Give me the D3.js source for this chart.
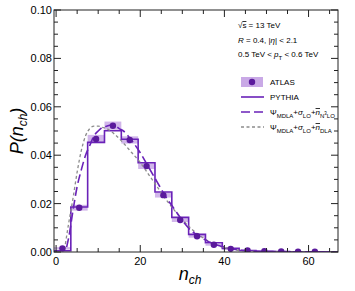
<!DOCTYPE html>
<html>
<head>
<meta charset="utf-8">
<script src="https://cdn.jsdelivr.net/npm/d3@7"></script>
<style>
  body { margin: 0; background: #fff; }
  svg { display: block; font-family: "Liberation Sans", Arial, sans-serif; }
</style>
</head>
<body>
<div id="chart"></div>
<script>
// bins of width 4 starting at -0.5
var binEdges = d3.range(-0.5, 68, 4);
var pythia = [0.0005, 0.0186, 0.0453, 0.0501, 0.0466, 0.0369, 0.0248, 0.0143, 0.0073,
              0.0038, 0.0015, 0.0006, 0.0003, 0.0002, 0.0001, 0.0001, 0.0001];
var atlasN = [1.5, 5.5, 9.5, 13.5, 17.5, 21.5, 25.5, 29.5, 33.5, 37.5, 41.5, 45.5, 49.5, 53.5, 57.5, 61.5];
var atlas = [0.0015, 0.0183, 0.0467, 0.0522, 0.0463, 0.0355, 0.0235, 0.0132, 0.0065,
             0.0030, 0.0013, 0.0006, 0.0003, 0.0002, 0.0001, 0.0001];
var atlasErr = [0.0005, 0.0012, 0.0017, 0.0017, 0.0015, 0.0012, 0.0010, 0.0008, 0.0006,
                0.0004, 0.0003, 0.0002, 0.0001, 0.0001, 0.0001, 0.0001];
var n3loN = [2.5, 3, 4, 5, 6, 7, 8, 9, 10, 11, 12, 13, 14, 15, 16, 18, 20, 22, 24, 26, 28, 30,
             32, 34, 36, 38, 40, 44, 50, 58, 67];
var n3lo = [0.002, 0.006, 0.017, 0.027, 0.034, 0.040, 0.044, 0.048, 0.050, 0.0515, 0.052, 0.0525,
            0.0522, 0.051, 0.050, 0.046, 0.041, 0.035, 0.029, 0.023, 0.018, 0.013,
            0.009, 0.0065, 0.0045, 0.003, 0.002, 0.0007, 0.0002, 0.0001, 0.0];
var dlaN = [2, 3, 4, 5, 6, 7, 8, 9, 10, 11, 12, 14, 16, 18, 20, 22, 24, 26, 28, 30,
            32, 34, 36, 38, 40, 44, 50, 58, 67];
var dla = [0.001, 0.012, 0.022, 0.033, 0.042, 0.048, 0.051, 0.052, 0.052, 0.0515, 0.051, 0.0485,
           0.045, 0.041, 0.037, 0.032, 0.027, 0.022, 0.0175, 0.0135,
           0.0098, 0.007, 0.0047, 0.003, 0.0018, 0.0006, 0.0001, 0.0, 0.0];
var xMajor = [0, 20, 40, 60];
var yMajor = [0, 0.02, 0.04, 0.06, 0.08, 0.10];

var width = 355, height = 291,
    margin = {top: 10, right: 17, bottom: 39, left: 54};
var purple = '#6a22b8', dotCol = '#5a1a9c', band = '#c9a9e6', grey = '#8c8c8c';

var x = d3.scaleLinear().domain([-0.5, 67]).range([margin.left, width - margin.right]);
var y = d3.scaleLinear().domain([0, 0.1]).range([height - margin.bottom, margin.top]);

var svg = d3.select('#chart').append('svg')
    .attr('width', width)
    .attr('height', height);

svg.append('clipPath').attr('id', 'clip')
  .append('rect')
    .attr('x', margin.left).attr('y', margin.top)
    .attr('width', width - margin.left - margin.right)
    .attr('height', height - margin.top - margin.bottom);

var plot = svg.append('g').attr('clip-path', 'url(#clip)');

// ATLAS uncertainty bands
plot.selectAll('.band')
    .data(atlas)
  .enter().append('rect')
    .attr('class', 'band')
    .attr('x', function(d, i) { return x(atlasN[i] - 2); })
    .attr('width', function(d, i) { return x(atlasN[i] + 2) - x(atlasN[i] - 2); })
    .attr('y', function(d, i) { return y(d + atlasErr[i]); })
    .attr('height', function(d, i) { return y(d - atlasErr[i]) - y(d + atlasErr[i]); })
    .style('fill', band)
    .style('opacity', 0.85);

// PYTHIA histogram as step line
var steps = [];
pythia.forEach(function(v, i) {
  steps.push([binEdges[i], v]);
  steps.push([binEdges[i + 1], v]);
});
steps.unshift([binEdges[0], 0]);
var lineXY = d3.line()
    .x(function(d) { return x(d[0]); })
    .y(function(d) { return y(d[1]); });
plot.append('path')
    .attr('d', lineXY(steps))
    .style('fill', 'none')
    .style('stroke', purple)
    .style('stroke-width', 1.6);

var smooth = d3.line()
    .curve(d3.curveMonotoneX)
    .x(function(d) { return x(d[0]); })
    .y(function(d) { return y(d[1]); });

plot.append('path')
    .attr('d', smooth(dlaN.map(function(n, i) { return [n, dla[i]]; })))
    .style('fill', 'none')
    .style('stroke', grey)
    .style('stroke-width', 1.3)
    .style('stroke-dasharray', '3,2.5');

plot.append('path')
    .attr('d', smooth(n3loN.map(function(n, i) { return [n, n3lo[i]]; })))
    .style('fill', 'none')
    .style('stroke', purple)
    .style('stroke-width', 1.6)
    .style('stroke-dasharray', '9,4');

plot.selectAll('.pt')
    .data(atlas)
  .enter().append('circle')
    .attr('class', 'pt')
    .attr('cx', function(d, i) { return x(atlasN[i]); })
    .attr('cy', function(d) { return y(d); })
    .attr('r', 3.2)
    .style('fill', dotCol);

// frame and ticks (inward, all four sides)
var x0 = margin.left, x1 = width - margin.right, y0 = height - margin.bottom, y1 = margin.top;
var axes = svg.append('g').style('stroke', '#222').style('stroke-width', 1);
axes.append('rect')
    .attr('x', x0).attr('y', y1)
    .attr('width', x1 - x0).attr('height', y0 - y1)
    .style('fill', 'none');

var xMinor = d3.range(0, 67, 5);
xMinor.forEach(function(v) {
  var len = xMajor.indexOf(v) >= 0 ? 7 : 4;
  axes.append('line').attr('x1', x(v)).attr('x2', x(v)).attr('y1', y0).attr('y2', y0 - len);
  axes.append('line').attr('x1', x(v)).attr('x2', x(v)).attr('y1', y1).attr('y2', y1 + len);
});
var yMinor = d3.range(0, 0.1001, 0.005);
yMinor.forEach(function(v, i) {
  var len = i % 4 === 0 ? 7 : 4;
  axes.append('line').attr('y1', y(v)).attr('y2', y(v)).attr('x1', x0).attr('x2', x0 + len);
  axes.append('line').attr('y1', y(v)).attr('y2', y(v)).attr('x1', x1).attr('x2', x1 - len);
});

svg.selectAll('.xlab')
    .data(xMajor)
  .enter().append('text')
    .attr('x', function(d) { return x(d); })
    .attr('y', y0 + 13)
    .attr('text-anchor', 'middle')
    .style('font-size', '11px')
    .text(function(d) { return d; });

svg.selectAll('.ylab')
    .data(yMajor)
  .enter().append('text')
    .attr('x', x0 - 2)
    .attr('y', function(d) { return y(d) + 4; })
    .attr('text-anchor', 'end')
    .style('font-size', '11px')
    .text(function(d) { return d3.format('.2f')(d); });

// axis titles
var xt = svg.append('text')
    .attr('x', 190).attr('y', 280)
    .attr('text-anchor', 'middle')
    .style('font-size', '18px').style('font-style', 'italic');
xt.append('tspan').text('n');
xt.append('tspan').attr('dy', 4).style('font-size', '12px').text('ch');

var yt = svg.append('text')
    .attr('transform', 'translate(23,131) rotate(-90)')
    .attr('text-anchor', 'middle')
    .style('font-size', '18px').style('font-style', 'italic');
yt.append('tspan').text('P(n');
yt.append('tspan').attr('dy', 4).style('font-size', '12px').text('ch');
yt.append('tspan').attr('dy', -4).text(')');

// annotations
var ann = svg.append('g').style('font-size', '8px');
var a1 = ann.append('text').attr('x', 238).attr('y', 28);
a1.append('tspan').text('√');
a1.append('tspan').style('text-decoration', 'overline').text('s');
a1.append('tspan').text(' = 13 TeV');
var a2 = ann.append('text').attr('x', 238).attr('y', 43);
a2.append('tspan').style('font-style', 'italic').text('R');
a2.append('tspan').text(' = 0.4, |');
a2.append('tspan').style('font-style', 'italic').text('η');
a2.append('tspan').text('| < 2.1');
var a3 = ann.append('text').attr('x', 238).attr('y', 57);
a3.append('tspan').text('0.5 TeV <  ');
a3.append('tspan').style('font-style', 'italic').text('p');
a3.append('tspan').attr('dy', 2.5).style('font-size', '6px').text('T');
a3.append('tspan').attr('dy', -2.5).text(' < 0.6 TeV');

// legend
var lg = svg.append('g').style('font-size', '8px');
lg.append('rect').attr('x', 241).attr('y', 77).attr('width', 22).attr('height', 10)
    .style('fill', band);
lg.append('circle').attr('cx', 252).attr('cy', 82).attr('r', 3.2).style('fill', dotCol);
lg.append('text').attr('x', 270).attr('y', 85).text('ATLAS');

lg.append('line').attr('x1', 241).attr('x2', 264).attr('y1', 97).attr('y2', 97)
    .style('stroke', purple).style('stroke-width', 1.6);
lg.append('text').attr('x', 270).attr('y', 100).text('PYTHIA');

lg.append('line').attr('x1', 241).attr('x2', 264).attr('y1', 112).attr('y2', 112)
    .style('stroke', purple).style('stroke-width', 1.6).style('stroke-dasharray', '9,4');
lg.append('line').attr('x1', 241).attr('x2', 264).attr('y1', 127).attr('y2', 127)
    .style('stroke', grey).style('stroke-width', 1.3).style('stroke-dasharray', '3,2.5');

function psiLabel(yy, last, sup) {
  var t = lg.append('text').attr('x', 270).attr('y', yy);
  t.append('tspan').text('Ψ');
  t.append('tspan').attr('dy', 2.5).style('font-size', '6px').text('MDLA');
  t.append('tspan').attr('dy', -2.5).text('+');
  t.append('tspan').style('font-style', 'italic').text('σ');
  t.append('tspan').attr('dy', 2.5).style('font-size', '6px').text('LO');
  t.append('tspan').attr('dy', -2.5).text('+');
  t.append('tspan').style('font-style', 'italic').style('text-decoration', 'overline').text('n');
  var s = t.append('tspan').attr('dy', 2.5).style('font-size', '6px');
  if (sup) {
    s.text('N');
    t.append('tspan').attr('dy', -3).style('font-size', '4.5px').text('3');
    t.append('tspan').attr('dy', 3).style('font-size', '6px').text(last);
  } else {
    s.text(last);
  }
}
psiLabel(115, 'LO', true);
psiLabel(130, 'DLA', false);
</script>
</body>
</html>
